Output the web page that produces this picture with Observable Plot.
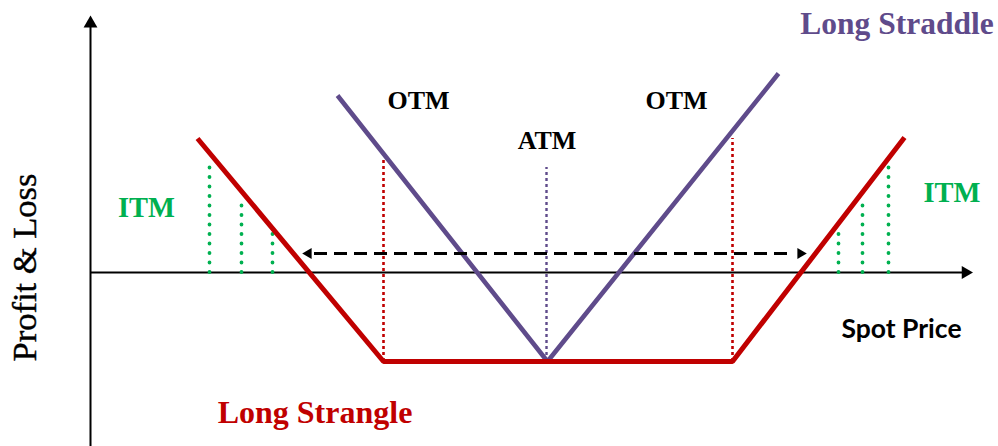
<!DOCTYPE html>
<html>
<head>
<meta charset="utf-8">
<script src="https://cdn.jsdelivr.net/npm/d3@7"></script>
<script src="https://cdn.jsdelivr.net/npm/@observablehq/plot@0.6"></script>
<style>
  html, body { margin: 0; padding: 0; background: #ffffff; }
  svg { display: block; }
</style>
</head>
<body>
<script>
// ---- Data (spot price units on x, profit & loss units on y) ----
// Long strangle payoff: put strike, call strike and premium floor
const strangleSpot = [19.7, 38.3, 73.2, 90.4];
const stranglePL   = [13.4, -8.9, -8.9, 13.5];

// Long straddle payoff: single ATM strike
const straddleSpot = [33.7, 54.7, 77.8];
const straddlePL   = [17.7, -8.9, 19.9];

// Strike markers (dotted verticals)
const strangleStrikes   = [38.3, 73.2];
const strangleStrikeTop = [11.4, 13.4];
const atmStrike    = [54.6];
const atmStrikeTop = [10.5];

// In-the-money markers (green dotted verticals)
const itmSpot = [20.9, 24.1, 27.2, 83.8, 86.2, 88.8];
const itmTop  = [10.7, 7.2, 4.2, 4.2, 7.2, 10.7];

// Breakeven range (dashed double arrow)
const rangeFrom = [30.8];
const rangeTo   = [80.0];
const rangeLevel = [1.9];

// Axes extents
const axisOrigin = [9.0, 0];
const axisXEnd = [96.5];
const axisYEnd = [24.9];
const yBottom = -17.4;

// Labels
const labelText = ["OTM", "OTM", "ATM"];
const labelSpot = [41.8, 67.6, 54.65];
const labelPL   = [16.4, 16.4, 12.4];
const itmText = ["ITM", "ITM"];
const itmLabelSpot = [14.6, 95.15];
const itmLabelPL   = [5.6, 7.1];
const straddleTitle = ["Long Straddle"];
const strangleTitle = ["Long Strangle"];
const xTitle = ["Spot Price"];
const yTitle = ["Profit & Loss"];

// ---- Build tables ----
const strangle = strangleSpot.map((s, i) => ({spot: s, pl: stranglePL[i]}));
const straddle = straddleSpot.map((s, i) => ({spot: s, pl: straddlePL[i]}));
const strikeRules = strangleStrikes.map((s, i) => ({spot: s, top: strangleStrikeTop[i]}));
const atmRules = atmStrike.map((s, i) => ({spot: s, top: atmStrikeTop[i]}));
const itmRules = itmSpot.map((s, i) => ({spot: s, top: itmTop[i]}));
const labels = labelText.map((t, i) => ({t, spot: labelSpot[i], pl: labelPL[i]}));
const itmLabels = itmText.map((t, i) => ({t, spot: itmLabelSpot[i], pl: itmLabelPL[i]}));

const RED = "#c00000", PURPLE = "#5f4b8b", GREEN = "#00b050";
const SERIF = "'Liberation Serif', 'Times New Roman', serif";

const chart = Plot.plot({
  width: 998,
  height: 446,
  marginTop: 0, marginRight: 0, marginBottom: 0, marginLeft: 0,
  x: {domain: [0, 99.8], axis: null},
  y: {domain: [yBottom, 27.2], axis: null},
  style: {background: "#ffffff"},
  marks: [
    // axes
    Plot.ruleX([axisOrigin[0]], {y1: yBottom, y2: axisYEnd[0], stroke: "#000", strokeWidth: 2}),
    Plot.ruleY([axisOrigin[1]], {x1: axisOrigin[0], x2: axisXEnd[0], stroke: "#000", strokeWidth: 2}),
    Plot.dot([{x: axisOrigin[0], y: axisYEnd[0]}], {x: "x", y: "y", symbol: "triangle2", r: 6.6, fill: "#000", stroke: "none"}),
    Plot.dot([{x: axisXEnd[0], y: axisOrigin[1]}], {x: "x", y: "y", symbol: "triangle2", r: 6.2, fill: "#000", stroke: "none", rotate: 90}),
    // strike markers
    Plot.ruleX(strikeRules, {x: "spot", y1: stranglePL[1], y2: "top", stroke: RED, strokeWidth: 2.6, strokeDasharray: "3,3"}),
    Plot.ruleX(atmRules, {x: "spot", y1: straddlePL[1], y2: "top", stroke: PURPLE, strokeWidth: 2.4, strokeDasharray: "3,3"}),
    Plot.ruleX(itmRules, {x: "spot", y1: 0, y2: "top", stroke: GREEN, strokeWidth: 3.8, strokeDasharray: "0,9.5", strokeLinecap: "round"}),
    // payoff lines
    Plot.line(straddle, {x: "spot", y: "pl", stroke: PURPLE, strokeWidth: 4.6, strokeLinejoin: "miter", strokeLinecap: "butt"}),
    Plot.line(strangle, {x: "spot", y: "pl", stroke: RED, strokeWidth: 5, strokeLinejoin: "miter", strokeLinecap: "butt"}),
    // breakeven range arrow
    Plot.ruleY(rangeLevel, {x1: rangeFrom[0] + 0.6, x2: rangeTo[0] - 0.6, stroke: "#000", strokeWidth: 3, strokeDasharray: "13,7"}),
    Plot.dot([{x: rangeFrom[0], y: rangeLevel[0]}], {x: "x", y: "y", symbol: "triangle2", r: 5.2, fill: "#000", stroke: "none", rotate: -90}),
    Plot.dot([{x: rangeTo[0], y: rangeLevel[0]}], {x: "x", y: "y", symbol: "triangle2", r: 5.2, fill: "#000", stroke: "none", rotate: 90}),
    // labels
    Plot.text(labels, {x: "spot", y: "pl", text: "t", lineAnchor: "bottom", fontFamily: SERIF, fontWeight: "bold", fontSize: 26, fill: "#000"}),
    Plot.text(itmLabels, {x: "spot", y: "pl", text: "t", lineAnchor: "bottom", fontFamily: SERIF, fontWeight: "bold", fontSize: 28.5, fill: GREEN}),
    Plot.text(straddleTitle, {x: 89.65, y: 23.9, text: d => d, lineAnchor: "bottom", fontFamily: SERIF, fontWeight: "bold", fontSize: 31.5, fill: PURPLE}),
    Plot.text(strangleTitle, {x: 31.45, y: -15.0, text: d => d, lineAnchor: "bottom", fontFamily: SERIF, fontWeight: "bold", fontSize: 32, fill: RED}),
    Plot.text(xTitle, {x: 90.1, y: -6.5, text: d => d, lineAnchor: "bottom", fontFamily: "Lato, 'Open Sans', sans-serif", fontWeight: "bold", fontSize: 26.5, fill: "#000"}),
    Plot.text(yTitle, {x: 3.5, y: 0.5, text: d => d, lineAnchor: "bottom", rotate: -90, fontFamily: SERIF, fontWeight: "normal", fontSize: 34.5, fill: "#000", stroke: "#000", strokeWidth: 0.4})
  ]
});
document.body.appendChild(chart);
</script>
</body>
</html>
